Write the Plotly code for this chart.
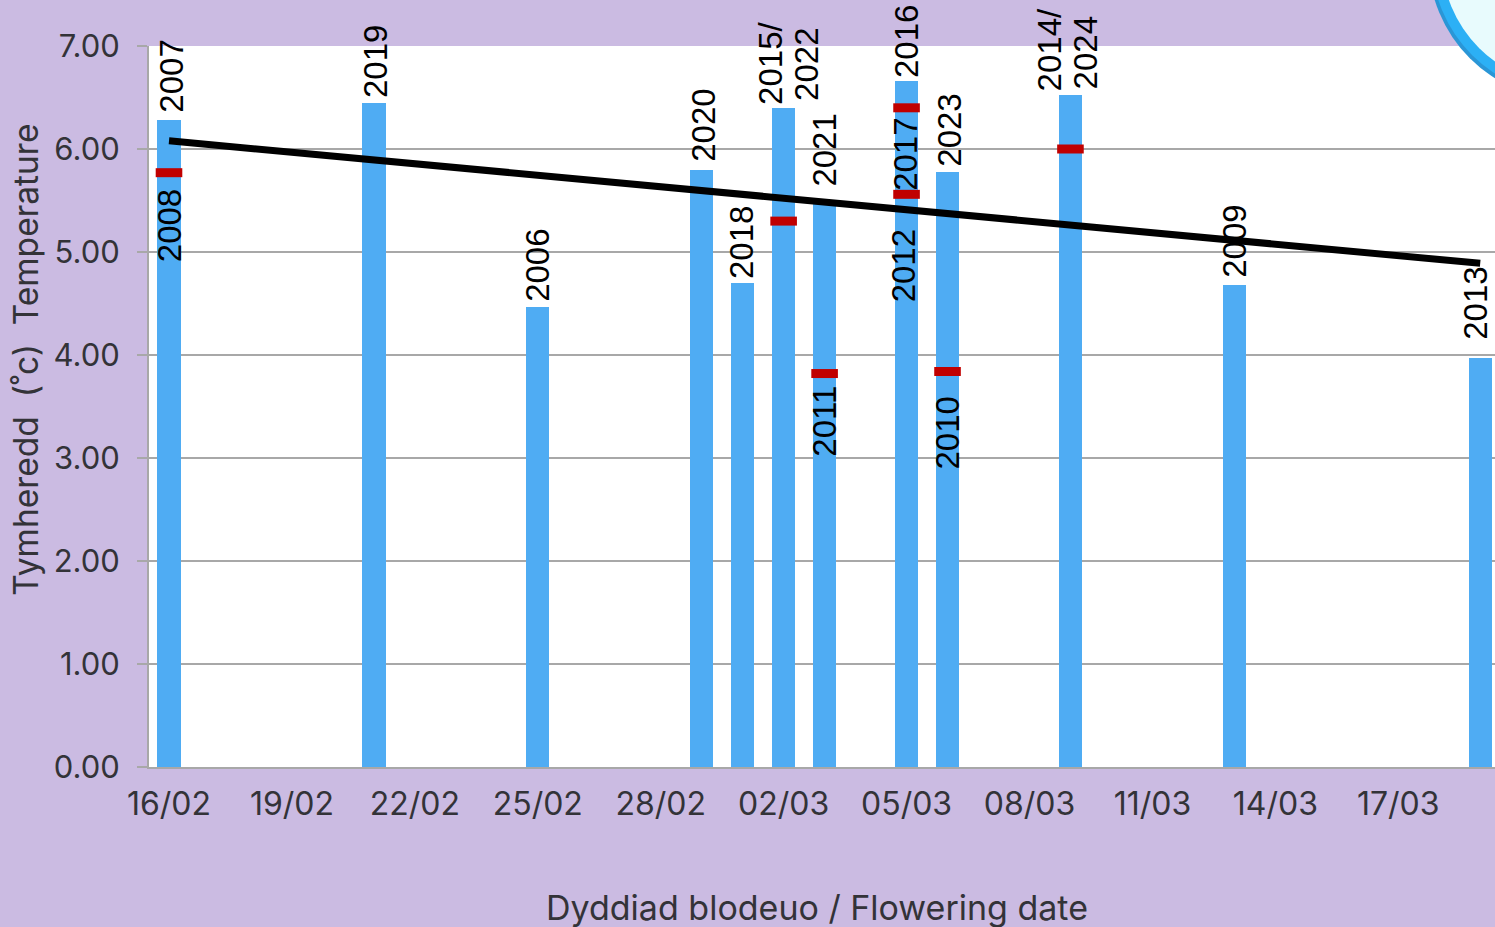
import plotly.graph_objects as go

dates = ["2024-02-16","2024-02-21","2024-02-25","2024-02-29","2024-03-01","2024-03-02",
         "2024-03-03","2024-03-05","2024-03-06","2024-03-09","2024-03-13","2024-03-19"]
temps = [6.28,6.45,4.47,5.80,4.70,6.40,5.50,6.66,5.78,6.52,4.68,3.97]

red_dates = ["2024-02-16","2024-03-02","2024-03-03","2024-03-05","2024-03-05","2024-03-06","2024-03-09"]
red_temps = [5.77,5.30,3.82,6.40,5.56,3.84,6.00]

trend_dates = ["2024-02-16","2024-03-19"]
trend_temps = [6.08,4.89]

above_dates = ["2024-02-16","2024-02-21","2024-02-25","2024-02-29","2024-03-01","2024-03-02","2024-03-02",
               "2024-03-03","2024-03-05","2024-03-06","2024-03-09","2024-03-09","2024-03-13","2024-03-19"]
above_temps = [6.28,6.45,4.47,5.80,4.70,6.40,6.40,5.50,6.66,5.78,6.52,6.52,4.68,3.97]
above_labels = ["2007","2019","2006","2020","2018","2015/","2022","2021","2016","2023","2014/","2024","2009","2013"]
above_dx = [3,1,-1,1,-1,-13,23,-1,0,2,-21,15,0,-5]
above_gap = [5,3,3,6,2,1,5,12,1,3,2,4,5,16]

under_dates = ["2024-02-16","2024-03-03","2024-03-05","2024-03-05","2024-03-06"]
under_temps = [5.77,3.82,6.40,5.56,3.84]
under_labels = ["2008","2011","2017","2012","2010"]
under_dx = [0,-1,-1,-3,0]
under_gap = [15,10,8,33,23]

x_title = "Dyddiad blodeuo / Flowering date"
y_title = "Tymheredd  (˚c)  Temperature"

BG = "#cbbbe2"; GRID = "#a8a8a8"; TXT = "#333338"; FONT = "Inter"
DAY = 86400000

fig = go.Figure()
fig.add_bar(x=dates, y=temps, width=0.57*DAY, marker=dict(color="#4facf3", line_width=0), showlegend=False)
fig.add_scatter(x=trend_dates, y=trend_temps, mode="lines", line=dict(color="black", width=7), showlegend=False)
fig.add_scatter(x=red_dates, y=red_temps, mode="markers", showlegend=False,
                marker=dict(symbol="line-ew", size=19, color="#c00000", line=dict(color="#c00000", width=9)))

label_font = dict(family="Liberation Sans", size=33, color="black")
for d, v, t, dx, gap in zip(above_dates, above_temps, above_labels, above_dx, above_gap):
    fig.add_annotation(x=d, y=v, text=t, textangle=-90, showarrow=False, yanchor="bottom",
                       xshift=dx, yshift=gap, font=label_font)
for d, v, t, dx, gap in zip(under_dates, under_temps, under_labels, under_dx, under_gap):
    fig.add_annotation(x=d, y=v, text=t, textangle=-90, showarrow=False, yanchor="top",
                       xshift=dx, yshift=-gap, font=label_font)

def px(x): return (x-149)/1346
def py(y): return (767.5-y)/721.5
def circle(cx, cy, r, color):
    fig.add_shape(type="circle", xref="paper", yref="paper", layer="above",
                  x0=px(cx-r), x1=px(cx+r), y0=py(cy+r), y1=py(cy-r),
                  fillcolor=color, line_width=0)
circle(1569.5, -41.4, 141, "#2a96d6")
circle(1570.5, -43, 139, "#2cb0f5")
circle(1570.5, -43, 129, "#e8fbfd")

fig.add_annotation(xref="paper", yref="paper", x=px(817), y=py(908), text=x_title, showarrow=False,
                   font=dict(size=34), xanchor="center", yanchor="middle")
fig.add_annotation(xref="paper", yref="paper", x=px(26), y=py(360), text=y_title, showarrow=False,
                   textangle=-90, font=dict(size=33.5), xanchor="center", yanchor="middle")

fig.update_layout(
    width=1495, height=927, margin=dict(l=149, r=0, t=46, b=160),
    paper_bgcolor=BG, plot_bgcolor="white",
    font=dict(family=FONT, color=TXT, size=31),
    bargap=0, showlegend=False,
    xaxis=dict(type="date", range=["2024-02-15 12:17", "2024-03-19 08:40"],
               tick0="2024-02-16", dtick=3*DAY, tickformat="%d/%m", ticks="",
               showgrid=False, showline=True, linecolor=GRID, linewidth=2, zeroline=False,
               tickfont=dict(size=32), ticklabelstandoff=8),
    yaxis=dict(range=[0,7], tick0=0, dtick=1, tickformat=".2f", ticks="outside", ticklen=10,
               tickcolor=GRID, tickwidth=2, showgrid=True, gridcolor=GRID, gridwidth=2,
               showline=True, linecolor=GRID, linewidth=2, zeroline=False,
               tickfont=dict(size=31), ticklabelstandoff=11),
)
fig.write_html("out.html", config={"displayModeBar": False},
               post_script="document.body.style.margin='0';document.body.style.overflow='hidden';")
